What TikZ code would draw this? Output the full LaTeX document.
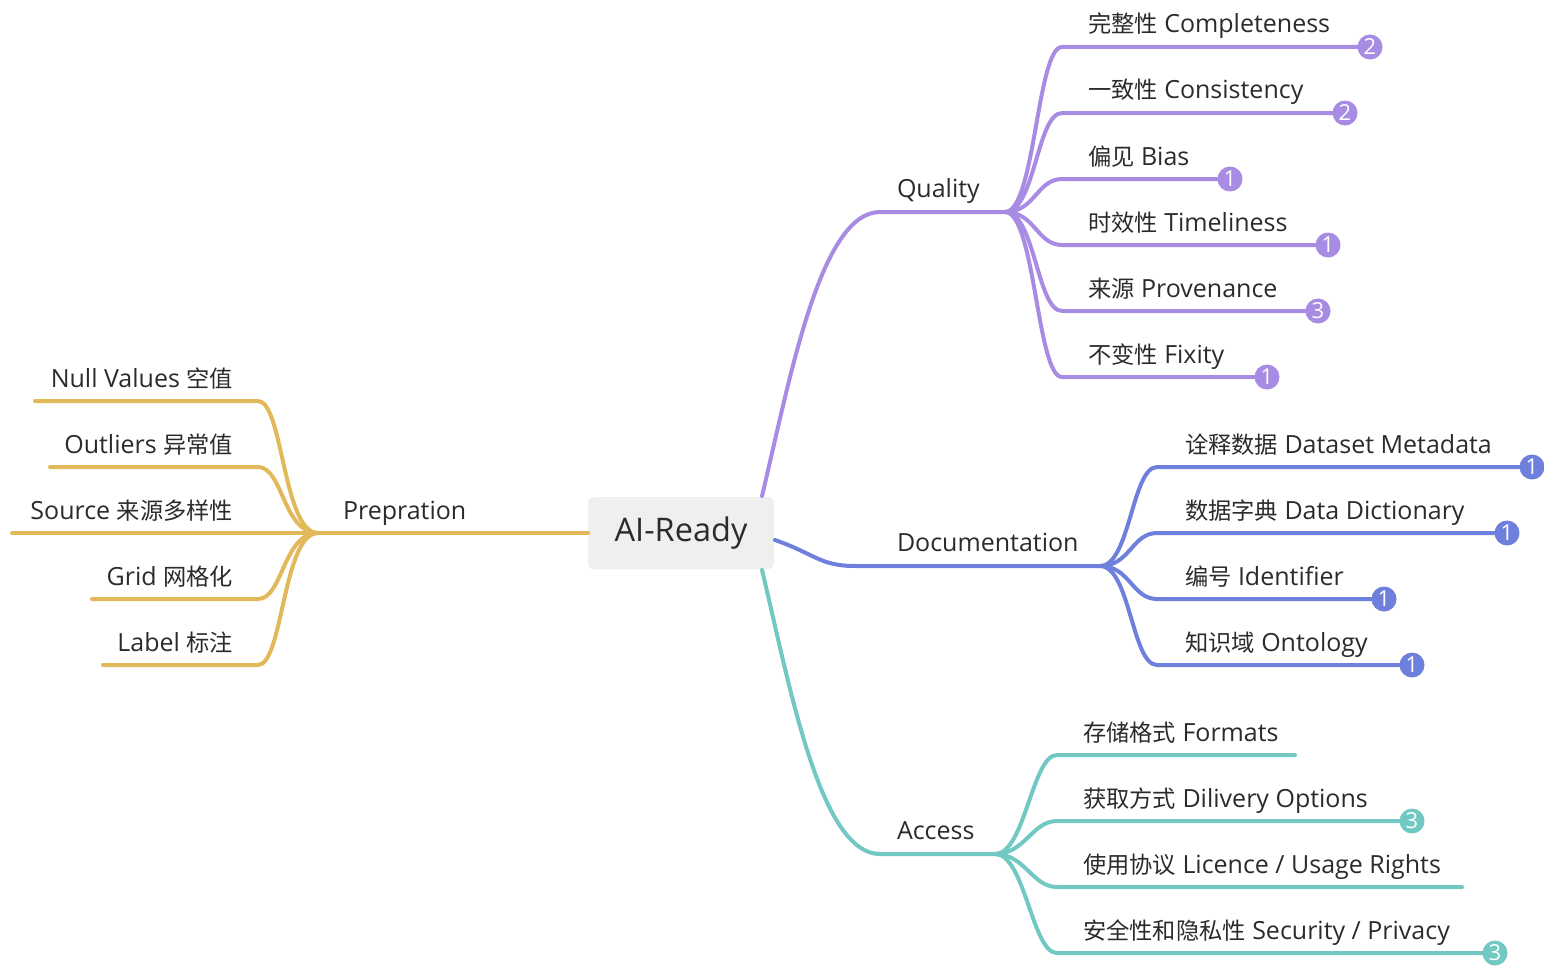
\documentclass[tikz,border=0pt]{standalone}
\usepackage{fontspec}
\setmainfont{Open Sans}
\newfontfamily\cjk{Noto Sans CJK SC}[Scale=0.93]
\definecolor{prepc}{HTML}{E1B95B}
\definecolor{qualc}{HTML}{A88BE2}
\definecolor{docc}{HTML}{6F7FDC}
\definecolor{accc}{HTML}{72C8C3}
\definecolor{rootc}{HTML}{EEF0F0}
\definecolor{textc}{HTML}{2B2B2B}

\begin{document}
\begin{tikzpicture}[x=1pt, y=-1pt, line cap=round,
    every node/.style = {inner sep=0pt, outer sep=0pt,
                         font=\fontsize{25}{29}\selectfont, text=textc},
          root/.style = {rectangle, rounded corners=6pt, fill=rootc,
                         minimum width=186pt, minimum height=72pt,
                         font=\fontsize{32.5}{38}\selectfont},
         ltext/.style = {anchor=base east},
         rtext/.style = {anchor=base west},
          prep/.style = {draw=prepc, line width=4pt},
          qual/.style = {draw=qualc, line width=4pt},
           doc/.style = {draw=docc, line width=4pt},
           acc/.style = {draw=accc, line width=4pt},
         badge/.style = {circle, minimum size=25pt, text=white,
                         font=\fontsize{22}{22}\selectfont},
        qbadge/.style = {badge, fill=qualc},
        dbadge/.style = {badge, fill=docc},
        abadge/.style = {badge, fill=accc},]%
  \useasboundingbox (0,0) rectangle (1544,966);
  % centre
  \node [root] (root) at (681,533) {AI-Ready};
  \coordinate (rq) at (762,496);
  \coordinate (rd) at (775,540);
  \coordinate (ra) at (762,570);
  % Prepration
  \coordinate (pj) at (318,533);
  \draw [prep] (root.west) -- (pj);
  \node [rtext] (prepl) at (343,519) {Prepration};
  \coordinate (p1s) at (258,401);  \coordinate (p1e) at (35,401);
  \coordinate (p2s) at (258,467);  \coordinate (p2e) at (50,467);
  \coordinate (p3e) at (12,533);
  \coordinate (p4s) at (258,599);  \coordinate (p4e) at (92,599);
  \coordinate (p5s) at (258,665);  \coordinate (p5e) at (103,665);
  \draw [prep] (pj) .. controls +(-35,0) and +(25,0) .. (p1s) -- (p1e);
  \draw [prep] (pj) .. controls +(-35,0) and +(25,0) .. (p2s) -- (p2e);
  \draw [prep] (pj) -- (p3e);
  \draw [prep] (pj) .. controls +(-35,0) and +(25,0) .. (p4s) -- (p4e);
  \draw [prep] (pj) .. controls +(-35,0) and +(25,0) .. (p5s) -- (p5e);
  \node [ltext] (p1) at (233,387) {Null Values {\cjk 空值}};
  \node [ltext] (p2) at (233,453) {Outliers {\cjk 异常值}};
  \node [ltext] (p3) at (233,519) {Source {\cjk 来源多样性}};
  \node [ltext] (p4) at (233,585) {Grid {\cjk 网格化}};
  \node [ltext] (p5) at (233,651) {Label {\cjk 标注}};
  % Quality
  \coordinate (qc) at (880,212);
  \coordinate (qj) at (1005,212);
  \draw [qual] (rq) .. controls +(28,-117) and +(-60,0) .. (qc) -- (qj);
  \node [rtext] (quall) at (897,197) {Quality};
  \coordinate (q1s) at (1062,47);   \coordinate (q1e) at (1370,47);
  \coordinate (q2s) at (1062,113);  \coordinate (q2e) at (1345,113);
  \coordinate (q3s) at (1062,179);  \coordinate (q3e) at (1230,179);
  \coordinate (q4s) at (1062,245);  \coordinate (q4e) at (1328,245);
  \coordinate (q5s) at (1062,311);  \coordinate (q5e) at (1318,311);
  \coordinate (q6s) at (1062,377);  \coordinate (q6e) at (1267,377);
  \draw [qual] (qj) .. controls +(30,0) and +(-25,0) .. (q1s) -- (q1e);
  \draw [qual] (qj) .. controls +(30,0) and +(-25,0) .. (q2s) -- (q2e);
  \draw [qual] (qj) .. controls +(30,0) and +(-25,0) .. (q3s) -- (q3e);
  \draw [qual] (qj) .. controls +(30,0) and +(-25,0) .. (q4s) -- (q4e);
  \draw [qual] (qj) .. controls +(30,0) and +(-25,0) .. (q5s) -- (q5e);
  \draw [qual] (qj) .. controls +(30,0) and +(-25,0) .. (q6s) -- (q6e);
  \node [rtext] (q1) at (1088,33)  {{\cjk 完整性} Completeness};
  \node [rtext] (q2) at (1088,99)  {{\cjk 一致性} Consistency};
  \node [rtext] (q3) at (1088,165) {{\cjk 偏见} Bias};
  \node [rtext] (q4) at (1088,231) {{\cjk 时效性} Timeliness};
  \node [rtext] (q5) at (1088,297) {{\cjk 来源} Provenance};
  \node [rtext] (q6) at (1088,363) {{\cjk 不变性} Fixity};
  \node [qbadge] (q1b) at (q1e) {2};
  \node [qbadge] (q2b) at (q2e) {2};
  \node [qbadge] (q3b) at (q3e) {1};
  \node [qbadge] (q4b) at (q4e) {1};
  \node [qbadge] (q5b) at (q5e) {3};
  \node [qbadge] (q6b) at (q6e) {1};
  % Documentation
  \coordinate (dc) at (855,566);
  \coordinate (dj) at (1100,566);
  \draw [doc] (rd) .. controls +(40,14) and +(-35,0) .. (dc) -- (dj);
  \node [rtext] (docl) at (897,551) {Documentation};
  \coordinate (d1s) at (1157,467);  \coordinate (d1e) at (1532,467);
  \coordinate (d2s) at (1157,533);  \coordinate (d2e) at (1507,533);
  \coordinate (d3s) at (1157,599);  \coordinate (d3e) at (1384,599);
  \coordinate (d4s) at (1157,665);  \coordinate (d4e) at (1412,665);
  \draw [doc] (dj) .. controls +(30,0) and +(-25,0) .. (d1s) -- (d1e);
  \draw [doc] (dj) .. controls +(30,0) and +(-25,0) .. (d2s) -- (d2e);
  \draw [doc] (dj) .. controls +(30,0) and +(-25,0) .. (d3s) -- (d3e);
  \draw [doc] (dj) .. controls +(30,0) and +(-25,0) .. (d4s) -- (d4e);
  \node [rtext] (d1) at (1185,453) {{\cjk 诠释数据} Dataset Metadata};
  \node [rtext] (d2) at (1185,519) {{\cjk 数据字典} Data Dictionary};
  \node [rtext] (d3) at (1185,585) {{\cjk 编号} Identifier};
  \node [rtext] (d4) at (1185,651) {{\cjk 知识域} Ontology};
  \node [dbadge] (d1b) at (d1e) {1};
  \node [dbadge] (d2b) at (d2e) {1};
  \node [dbadge] (d3b) at (d3e) {1};
  \node [dbadge] (d4b) at (d4e) {1};
  % Access
  \coordinate (ac) at (880,854);
  \coordinate (aj) at (995,854);
  \draw [acc] (ra) .. controls +(28,117) and +(-60,0) .. (ac) -- (aj);
  \node [rtext] (accl) at (897,839) {Access};
  \coordinate (a1s) at (1057,755);  \coordinate (a1e) at (1295,755);
  \coordinate (a2s) at (1057,821);  \coordinate (a2e) at (1412,821);
  \coordinate (a3s) at (1057,887);  \coordinate (a3e) at (1462,887);
  \coordinate (a4s) at (1057,953);  \coordinate (a4e) at (1495,953);
  \draw [acc] (aj) .. controls +(30,0) and +(-25,0) .. (a1s) -- (a1e);
  \draw [acc] (aj) .. controls +(30,0) and +(-25,0) .. (a2s) -- (a2e);
  \draw [acc] (aj) .. controls +(30,0) and +(-25,0) .. (a3s) -- (a3e);
  \draw [acc] (aj) .. controls +(30,0) and +(-25,0) .. (a4s) -- (a4e);
  \node [rtext] (a1) at (1083,741) {{\cjk 存储格式} Formats};
  \node [rtext] (a2) at (1083,807) {{\cjk 获取方式} Dilivery Options};
  \node [rtext] (a3) at (1083,873) {{\cjk 使用协议} Licence / Usage Rights};
  \node [rtext] (a4) at (1083,939) {{\cjk 安全性和隐私性} Security / Privacy};
  \node [abadge] (a2b) at (a2e) {3};
  \node [abadge] (a4b) at (a4e) {3};
\end{tikzpicture}
\end{document}
